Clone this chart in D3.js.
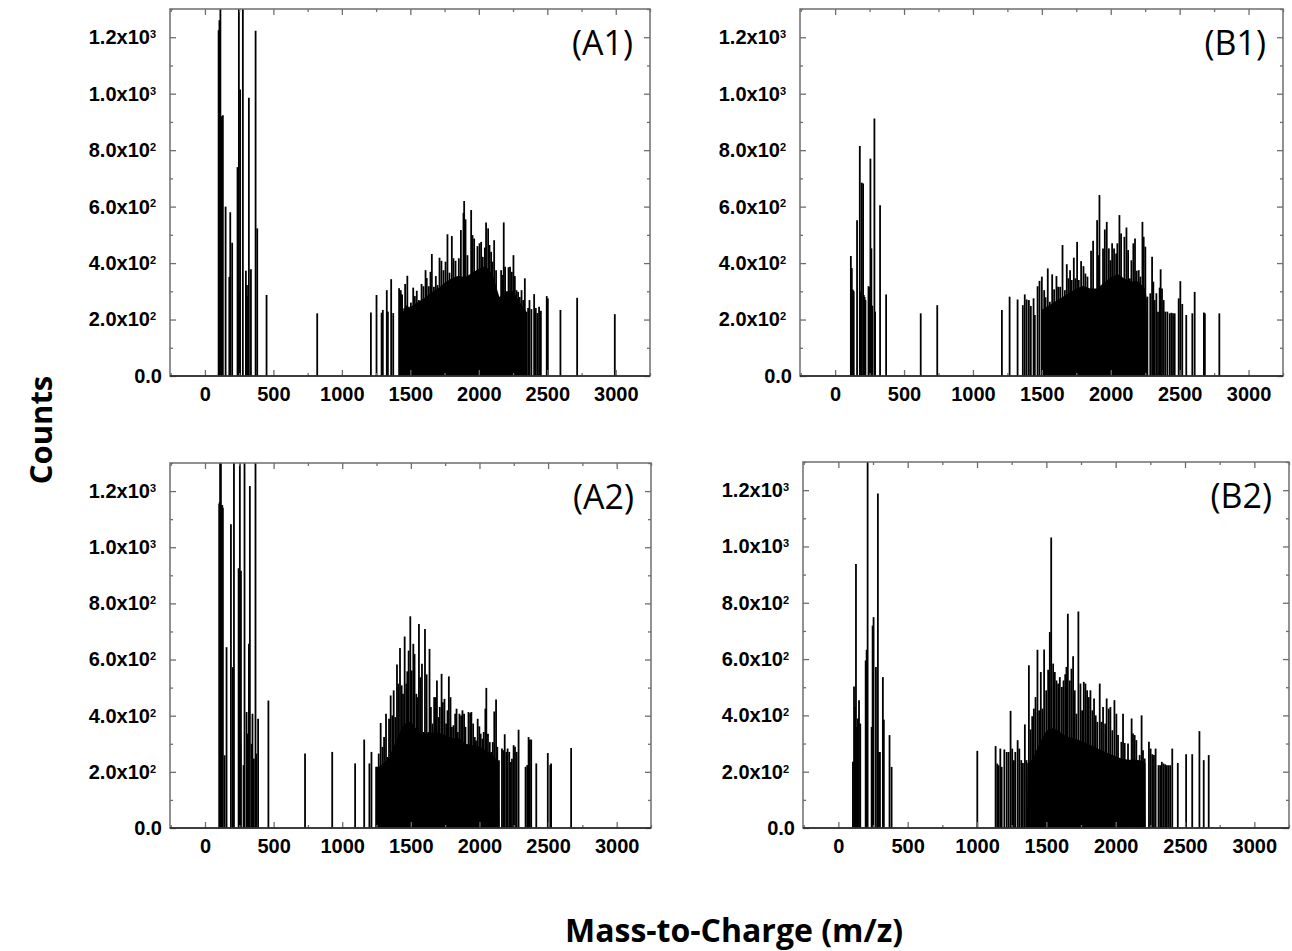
<!DOCTYPE html>
<html>
<head>
<meta charset="utf-8">
<script src="https://cdn.jsdelivr.net/npm/d3@7"></script>
<style>
  body { margin: 0; background: #fff; }
  svg text { fill: #000; }
</style>
</head>
<body>
<div id="container"></div>
<script>
// ---- tick data ----
const xTicks = [0, 500, 1000, 1500, 2000, 2500, 3000]
const xMinorTicks = [-250, 250, 750, 1250, 1750, 2250, 2750, 3250]
const yTicks = [0, 200, 400, 600, 800, 1000, 1200]
const yMinorTicks = [100, 300, 500, 700, 900, 1100, 1300]
const yTickMantissa = ["0.0", "2.0x10", "4.0x10", "6.0x10", "8.0x10", "1.0x10", "1.2x10"]
const yTickExponent = [null, "2", "2", "2", "2", "3", "3"]
const panelLabels = ["(A1)", "(B1)", "(A2)", "(B2)"]

// ---- spectra: [m/z, counts] ----
// individual peaks
const a1Spikes = [[100,1225],[103,900],[106,1260],[110,905],[113,1500],[117,895],[121,920],[125,900],[131,924],[151,600],[178,351],[185,580],[199,472],[238,740],[248,1500],[252,300],[257,1015],[277,1500],[299,373],[307,322],[314,283],[321,986],[336,378],[370,1223],[382,523],[450,287],[820,222],
  [1212,225],[1253,287],[1290,224],[1299,234],[1328,304],[1336,228],[1360,343],[1375,223],
  [1418,311],[1424,300],[1430,304],[1436,290],[1440,287],[1448,230],[1455,240],[1462,326],[1470,250],[1478,355],[1485,240],[1490,245],[1496,240],[1504,260],
  [1521,313],[1533,283],[1547,302],[1562,269],[1582,326],[1596,318],[1611,375],[1620,347],[1635,318],[1647,369],[1657,432],[1672,316],[1686,354],[1698,322],[1713,419],[1727,408],[1742,375],[1757,405],[1771,502],[1786,366],[1803,496],[1815,417],[1830,408],[1844,334],[1854,417],[1869,517],[1888,578],[1893,620],[1903,555],[1917,428],[1929,316],[1944,588],[1954,499],[1966,487],[1978,354],[1990,460],[2005,470],[2017,475],[2029,422],[2044,455],[2053,544],[2068,523],[2078,464],[2090,440],[2100,405],[2112,481],[2126,375],[2141,281],[2151,272],[2163,375],[2173,358],[2182,544],[2192,387],[2204,269],[2217,385],[2228,387],[2241,369],[2253,428],[2263,354],[2275,304],[2287,298],[2299,280],[2312,304],[2324,269],[2336,346],[2348,228],[2360,241],[2370,269],[2384,237],[2404,290],[2416,241],[2428,223],[2440,245],[2453,231],[2496,283],[2504,275],
  [2596,234],[2718,277],[2993,219]]
const b1Spikes = [[114,425],[118,300],[121,382],[125,307],[130,304],[135,300],[159,552],[179,815],[186,300],[193,685],[203,682],[208,287],[214,280],[220,269],[242,318],[248,315],[256,770],[263,452],[270,249],[285,912],[290,228],[326,605],[370,289],[621,222],[741,251],
  [1210,234],[1266,281],[1324,271],[1362,251],[1376,289],[1390,271],[1406,269],[1420,248],[1440,275],[1449,216],[1469,318],[1483,337],
  [1500,352],[1517,304],[1527,279],[1543,381],[1558,263],[1575,360],[1589,307],[1606,354],[1618,316],[1633,316],[1650,464],[1667,304],[1681,396],[1693,346],[1705,375],[1717,340],[1732,419],[1744,346],[1756,475],[1768,340],[1785,407],[1802,389],[1816,363],[1831,352],[1843,304],[1857,444],[1872,479],[1886,304],[1901,552],[1913,428],[1918,641],[1932,304],[1944,452],[1957,519],[1971,546],[1986,452],[1998,410],[2010,470],[2024,452],[2039,434],[2048,470],[2063,570],[2075,505],[2087,346],[2099,493],[2114,526],[2126,446],[2138,346],[2150,410],[2164,470],[2176,487],[2188,373],[2203,375],[2215,352],[2230,546],[2239,493],[2251,458],[2266,281],
  [2287,293],[2300,422],[2309,334],[2319,269],[2331,293],[2343,228],[2355,313],[2362,378],[2372,310],[2384,269],[2396,228],[2411,228],[2428,222],[2440,224],[2452,222],[2464,222],[2493,275],[2505,336],[2519,255],[2548,216],[2592,222],[2609,298],[2676,225],[2683,222],[2788,222]]
const a2Spikes = [[104,1155],[107,1160],[110,1500],[113,1150],[116,1500],[119,1150],[122,1140],[126,1150],[130,1141],[143,259],[157,644],[189,1082],[203,573],[211,1500],[245,925],[250,300],[254,1500],[258,300],[262,916],[281,224],[288,1500],[303,413],[310,336],[320,656],[327,1218],[340,300],[346,407],[356,247],[368,1500],[374,265],[387,389],[462,454],[729,265],[927,271],[1094,230],[1160,315],[1198,230],[1213,271],
  [1247,218],[1256,218],[1266,265],[1280,374],[1293,289],[1305,324],[1319,407],[1331,253],[1341,389],[1353,472],[1365,401],[1375,490],[1387,395],[1399,582],[1409,514],[1421,641],[1433,508],[1443,478],[1455,682],[1467,514],[1474,558],[1484,632],[1496,754],[1506,561],[1518,656],[1527,620],[1540,478],[1549,466],[1559,727],[1569,537],[1581,585],[1593,342],[1603,709],[1615,547],[1627,342],[1636,638],[1646,431],[1658,372],[1670,466],[1680,466],[1690,525],[1702,395],[1711,431],[1724,549],[1733,448],[1745,460],[1757,372],[1767,419],[1777,540],[1789,466],[1799,360],[1811,366],[1823,407],[1833,425],[1842,342],[1854,407],[1866,401],[1876,419],[1888,407],[1898,360],[1910,283],[1920,413],[1932,409],[1941,413],[1954,372],[1966,324],[1975,312],[1987,389],[1999,362],[2009,336],[2021,318],[2031,342],[2043,425],[2050,499],[2062,336],[2075,306],[2086,271],[2097,306],[2108,415],[2121,458],[2130,289],[2142,241],[2164,283],[2174,277],[2184,334],[2196,271],[2205,283],[2217,271],[2227,235],[2237,247],[2249,295],[2259,289],[2271,271],[2285,350],[2336,218],[2348,224],[2358,324],[2367,315],[2377,315],[2414,230],
  [2498,267],[2516,224],[2522,230],[2668,285]]
const b2Spikes = [[105,235],[113,503],[120,430],[127,938],[134,359],[141,389],[149,454],[158,371],[197,595],[204,633],[211,1500],[240,359],[247,719],[254,749],[271,572],[285,1188],[293,270],[300,270],[321,536],[328,385],[369,330],[384,217],[1002,274],
  [1134,291],[1146,229],[1156,223],[1168,282],[1178,217],[1197,279],[1214,270],[1228,270],[1242,416],[1254,282],[1266,241],[1276,270],[1293,312],[1305,282],[1319,241],[1331,231],[1345,368],[1357,241],[1374,578],[1386,350],[1398,397],[1410,424],[1422,465],[1436,633],[1448,418],[1460,554],[1472,424],[1484,634],[1499,489],[1513,562],[1525,696],[1535,1032],[1549,584],[1561,554],[1573,524],[1585,513],[1597,536],[1612,501],[1624,524],[1636,546],[1645,572],[1655,761],[1669,524],[1681,566],[1693,610],[1705,489],[1717,406],[1731,769],[1746,513],[1758,418],[1770,519],[1782,513],[1794,489],[1806,465],[1818,489],[1832,418],[1844,460],[1856,400],[1868,377],[1885,513],[1897,377],[1909,430],[1924,371],[1935,460],[1950,424],[1962,430],[1976,347],[1991,454],[2005,406],
  [2017,330],[2029,241],[2041,306],[2053,406],[2065,302],[2077,235],[2089,300],[2101,235],[2115,389],[2125,336],[2137,330],[2149,312],[2161,235],[2173,259],[2187,400],[2197,276],[2209,247],[2240,306],[2252,282],[2264,262],[2276,259],[2288,282],[2309,223],[2321,223],[2333,235],[2345,229],[2357,226],[2369,223],[2381,223],[2393,223],[2408,282],[2448,231],[2508,262],[2552,262],[2604,344],[2635,241],[2671,259]]

// solid lower envelope of the dense cluster
const a1Body = [[1500,0],[1502,245],[1550,260],[1600,275],[1650,295],[1700,310],[1750,330],[1800,345],[1850,355],[1900,350],[1950,365],[2000,380],[2050,390],[2100,360],[2150,280],[2200,300],[2250,300],[2300,260],[2345,230],[2347,0]]
const b1Body = [[1498,0],[1500,235],[1550,250],[1600,265],[1650,280],[1700,295],[1750,310],[1800,320],[1850,310],[1900,310],[1950,330],[2000,350],[2050,360],[2100,345],[2150,335],[2200,335],[2250,310],[2262,270],[2264,0]]
const a2Body = [[1245,0],[1247,212],[1300,230],[1340,250],[1400,320],[1450,370],[1500,380],[1550,345],[1600,335],[1650,340],[1700,340],[1750,330],[1800,320],[1850,320],[1900,300],[1950,295],[2000,290],[2050,275],[2100,258],[2140,235],[2145,0]]
const b2Body = [[1360,0],[1362,230],[1400,245],[1450,300],[1500,345],[1550,355],[1600,340],[1650,325],[1700,318],[1750,310],[1800,298],[1850,288],[1900,275],[1950,265],[2000,255],[2050,245],[2100,242],[2150,242],[2200,238],[2215,230],[2217,0]]

const panels = [
    {name: panelLabels[0], spikes: a1Spikes, body: a1Body, left: 170, top: 9, width: 480, height: 367},
    {name: panelLabels[1], spikes: b1Spikes, body: b1Body, left: 800, top: 9, width: 483, height: 367},
    {name: panelLabels[2], spikes: a2Spikes, body: a2Body, left: 170, top: 463, width: 481, height: 365},
    {name: panelLabels[3], spikes: b2Spikes, body: b2Body, left: 803, top: 462, width: 486, height: 366}
]

const svg = d3.select("#container").append("svg")
    .attr("width", 1292)
    .attr("height", 951)

const frameColor = "#6e6e6e"
const tickFont = "Liberation Sans, Arial, sans-serif"

panels.forEach((p, idx) => {
    const g = svg.append("g").attr("transform", `translate(${p.left},${p.top})`)
    const x = d3.scaleLinear().domain([-255, 3250]).range([0, p.width])
    const y = d3.scaleLinear().domain([0, 1300]).range([p.height, 0])

    const clipId = "clip" + idx
    g.append("clipPath").attr("id", clipId)
        .append("rect").attr("width", p.width).attr("height", p.height)

    const plot = g.append("g").attr("clip-path", `url(#${clipId})`)

    const area = d3.area()
        .x(d => x(d[0]))
        .y0(y(0))
        .y1(d => y(d[1]))

    plot.append("path")
        .datum(p.body)
        .attr("d", area)
        .attr("fill", "#000")

    plot.selectAll("line")
        .data(p.spikes)
        .join("line")
        .attr("x1", d => x(d[0]))
        .attr("x2", d => x(d[0]))
        .attr("y1", y(0))
        .attr("y2", d => y(d[1]))
        .attr("stroke", "#000")
        .attr("stroke-width", 1.8)

    // axes: major + minor ticks, all pointing inward
    const styleAxis = sel => {
        sel.select(".domain").remove()
        sel.selectAll(".tick line").attr("stroke", frameColor).attr("stroke-width", 1.3)
    }

    g.append("g").attr("transform", `translate(0,${p.height})`)
        .call(d3.axisBottom(x).tickValues(xTicks).tickSize(-6).tickPadding(11).tickFormat(d3.format("d")))
        .call(styleAxis)
        .call(ax => ax.selectAll(".tick text")
            .attr("font-family", tickFont)
            .attr("font-weight", "bold")
            .attr("font-size", 20)
            .attr("fill", "#000"))
    g.append("g").attr("transform", `translate(0,${p.height})`)
        .call(d3.axisBottom(x).tickValues(xMinorTicks).tickSize(-3).tickFormat(""))
        .call(styleAxis)
    g.append("g")
        .call(d3.axisTop(x).tickValues(xTicks).tickSize(-6).tickFormat(""))
        .call(styleAxis)
    g.append("g")
        .call(d3.axisTop(x).tickValues(xMinorTicks).tickSize(-3).tickFormat(""))
        .call(styleAxis)

    g.append("g")
        .call(d3.axisLeft(y).tickValues(yTicks).tickSize(-6))
        .call(styleAxis)
        .call(ax => ax.selectAll(".tick text")
            .text(null)
            .attr("font-family", tickFont)
            .attr("font-weight", "bold")
            .attr("font-size", 20)
            .attr("fill", "#000")
            .attr("x", (d, i) => yTickExponent[i] ? -14 : -8)
            .each(function (d, i) {
                const t = d3.select(this)
                t.append("tspan").text(yTickMantissa[i])
                if (yTickExponent[i]) {
                    t.append("tspan").attr("dy", "-0.55em").attr("font-size", 11).text(yTickExponent[i])
                }
            }))
    g.append("g")
        .call(d3.axisLeft(y).tickValues(yMinorTicks).tickSize(-3).tickFormat(""))
        .call(styleAxis)
    g.append("g").attr("transform", `translate(${p.width},0)`)
        .call(d3.axisRight(y).tickValues(yTicks).tickSize(-6).tickFormat(""))
        .call(styleAxis)
    g.append("g").attr("transform", `translate(${p.width},0)`)
        .call(d3.axisRight(y).tickValues(yMinorTicks).tickSize(-3).tickFormat(""))
        .call(styleAxis)

    // frame
    g.append("rect")
        .attr("width", p.width)
        .attr("height", p.height)
        .attr("fill", "none")
        .attr("stroke", frameColor)
        .attr("stroke-width", 1.5)
    g.append("line")
        .attr("x1", 0).attr("x2", p.width)
        .attr("y1", p.height).attr("y2", p.height)
        .attr("stroke", "#222")
        .attr("stroke-width", 1.5)

    g.append("text")
        .attr("x", p.width - 17)
        .attr("y", 46)
        .attr("text-anchor", "end")
        .attr("font-family", "Open Sans, sans-serif")
        .attr("font-size", 34)
        .text(p.name)
})

svg.append("text")
    .attr("transform", "translate(52,430) rotate(-90)")
    .attr("text-anchor", "middle")
    .attr("font-family", "Open Sans, sans-serif")
    .attr("font-weight", "bold")
    .attr("font-size", 31)
    .text("Counts")

svg.append("text")
    .attr("x", 565)
    .attr("y", 942)
    .attr("font-family", "Open Sans, sans-serif")
    .attr("font-weight", "bold")
    .attr("font-size", 32)
    .text("Mass-to-Charge (m/z)")
</script>
</body>
</html>
